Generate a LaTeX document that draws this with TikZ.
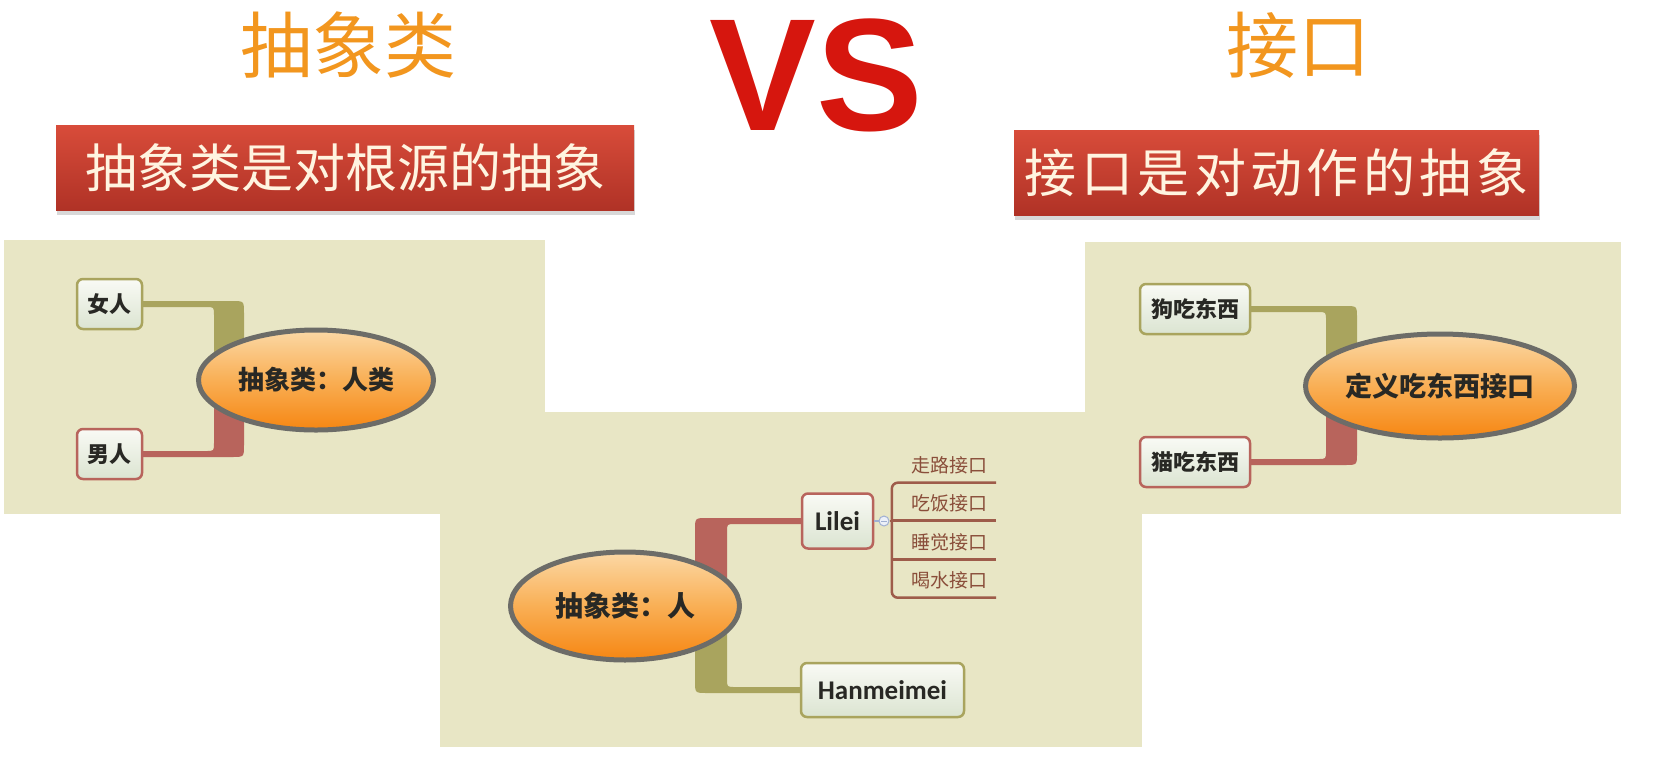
\documentclass[tikz,border=0pt]{standalone}
\usepackage{fontspec}
\setmainfont{Noto Sans CJK SC}
\newfontfamily\latinfont{Carlito}
\newfontfamily\vsfont{Liberation Sans}
\newfontfamily\bannerwide[LetterSpace=8.5]{Noto Sans CJK SC}
\usetikzlibrary{shapes.geometric,calc,shadows}

\definecolor{panelbg}{RGB}{232,230,197}
\definecolor{olivewire}{RGB}{169,164,94}
\definecolor{redwire}{RGB}{184,100,92}
\definecolor{titleorange}{RGB}{242,150,30}
\definecolor{vsred}{RGB}{214,22,14}
\definecolor{bannertop}{RGB}{216,76,58}
\definecolor{bannerbot}{RGB}{176,50,38}
\definecolor{bannertext}{RGB}{255,244,224}
\definecolor{ovaltop}{RGB}{251,216,165}
\definecolor{ovalmid}{RGB}{249,175,85}
\definecolor{ovalbot}{RGB}{246,134,18}
\definecolor{ovalrim}{RGB}{108,108,104}
\definecolor{boxtop}{RGB}{249,250,245}
\definecolor{boxbot}{RGB}{219,228,209}
\definecolor{inktext}{RGB}{40,40,36}
\definecolor{subline}{RGB}{158,92,74}
\definecolor{subtext}{RGB}{138,78,58}
\definecolor{markrim}{RGB}{160,176,210}
\definecolor{markfill}{RGB}{236,240,248}

\pgfdeclarelayer{panels}
\pgfdeclarelayer{wires}
\pgfsetlayers{panels,wires,main}

% Thick elbow branch: thin line from a topic box that widens into a bar
% running to the central oval.
% #1 colour, #2 box, #3 bar x next to box, #4 bar x away from box,
% #5 oval, #6 +1/-1 bar right/left of box, #7 +1/-1 oval above/below the line
\newcommand\elbowwire[7]{%
  \begin{pgfonlayer}{wires}
  \fill[#1] let \p1=(#2.center), \p2=(#5.center) in
    (\x1,{\y1-(#7)*3pt}) -- ({#4pt-(#6)*12pt},{\y1-(#7)*3pt})
    .. controls (#4pt,{\y1-(#7)*3pt}) .. (#4pt,{\y1-(#7)*3pt+(#7)*12pt})
    -- (#4pt,\y2) -- (#3pt,\y2)
    -- (#3pt,{\y1+(#7)*3pt+(#7)*8pt})
    .. controls (#3pt,{\y1+(#7)*3pt}) .. ({#3pt-(#6)*8pt},{\y1+(#7)*3pt})
    -- (\x1,{\y1+(#7)*3pt}) -- cycle;
  \end{pgfonlayer}}

\tikzset{
  topicbox/.style={draw, line width=2.5pt, rounded corners=6pt,
    top color=boxtop, bottom color=boxbot, inner sep=0pt,
    minimum height=50pt, text=inktext,
    font=\bfseries\fontsize{22}{22}\selectfont},
  central/.style={ellipse, draw=ovalrim, line width=5pt,
    top color=ovaltop, bottom color=ovalbot, middle color=ovalmid,
    inner sep=0pt, text=inktext, font=\bfseries\fontsize{26}{26}\selectfont},
  banner/.style={rectangle, top color=bannertop, bottom color=bannerbot,
    text=bannertext, inner sep=0pt, minimum height=85pt,
    drop shadow={shadow xshift=1pt, shadow yshift=-5pt, opacity=0.3}},
  headline/.style={text=titleorange, inner sep=0pt,
    font=\fontsize{72}{72}\selectfont},
  sublabel/.style={text width=86pt, align=right, inner xsep=9pt,
    inner ysep=0pt, minimum height=35pt, text=subtext,
    font=\fontsize{19}{19}\selectfont},
  subwire/.style={draw=subline, line width=2.5pt},
}

\begin{document}
\begin{tikzpicture}[x=1pt,y=1pt]
\useasboundingbox (0,0) rectangle (1671,-772);

% backdrop and the three mind-map panels
\begin{pgfonlayer}{panels}
  \fill[white] (0,0) rectangle (1671,-772);
  \fill[panelbg] (4,-240) rectangle (545,-514);
  \fill[panelbg] (440,-412) rectangle (1142,-747);
  \fill[panelbg] (1085,-242) rectangle (1621,-514);
\end{pgfonlayer}

% headings
\node[headline] (ttlA) at (348,-45) {抽象类};
\node[headline] (ttlI) at (1298,-45) {接口};
\node[anchor=base, inner sep=0pt, text=vsred,
  font=\vsfont\bfseries\fontsize{160}{160}\selectfont] (vs) at (816,-130) {VS};

% red banners
\node[banner, minimum width=578pt, font=\fontsize{52}{52}\selectfont]
  (bnA) at (345,-167.5) {抽象类是对根源的抽象};
\node[banner, minimum width=525pt, font=\bannerwide\fontsize{52}{52}\selectfont]
  (bnI) at (1276.5,-172.5) {接口是对动作的抽象};

% left map: abstract class
\node[central, minimum width=235pt, minimum height=100pt] (absA) at (316,-380) {抽象类：人类};
\node[topicbox, draw=olivewire, minimum width=65pt] (woman) at (109.5,-304) {女人};
\node[topicbox, draw=redwire, minimum width=65pt] (man) at (109.5,-454) {男人};
\elbowwire{olivewire}{woman}{214}{244}{absA}{1}{-1}
\elbowwire{redwire}{man}{214}{244}{absA}{1}{1}

% right map: interface
\node[central, minimum width=269pt, minimum height=104pt,
  font=\bfseries\fontsize{27}{27}\selectfont] (eatI) at (1440,-386) {定义吃东西接口};
\node[topicbox, draw=olivewire, minimum width=110pt] (dog) at (1195,-309) {狗吃东西};
\node[topicbox, draw=redwire, minimum width=110pt] (cat) at (1195,-462) {猫吃东西};
\elbowwire{olivewire}{dog}{1326}{1357}{eatI}{1}{-1}
\elbowwire{redwire}{cat}{1326}{1357}{eatI}{1}{1}

% middle map: abstract person with interfaces
\node[central, minimum width=229pt, minimum height=108pt,
  font=\bfseries\fontsize{28}{28}\selectfont] (absP) at (625,-606) {抽象类：人};
\node[topicbox, draw=redwire, minimum width=71pt, minimum height=55pt,
  font=\latinfont\bfseries\fontsize{27}{27}\selectfont] (lilei) at (837.5,-521) {Lilei};
\node[topicbox, draw=olivewire, minimum width=163pt, minimum height=54pt,
  font=\latinfont\bfseries\fontsize{27}{27}\selectfont] (hmm) at (882.5,-690) {Hanmeimei};
\elbowwire{redwire}{lilei}{727}{695}{absP}{-1}{-1}
\elbowwire{olivewire}{hmm}{727}{695}{absP}{-1}{1}

% collapse marker and the sub-topics of Lilei
\node[circle, draw=markrim, fill=markfill, line width=1pt, minimum size=10pt,
  inner sep=0pt] (mk) at (884,-521) {};
\draw[markrim, line width=1pt] ($(mk.center)+(-3,0)$) -- ($(mk.center)+(3,0)$);
\node[sublabel] (w1) at (944,-465) {走路接口};
\node[sublabel] (w2) at (944,-503) {吃饭接口};
\node[sublabel] (w3) at (944,-542) {睡觉接口};
\node[sublabel] (w4) at (944,-580) {喝水接口};
\draw[markrim, line width=1.5pt] (lilei.east) -- (mk.west);
\draw[subwire] (mk.east) -- (mk.east -| w1.south west);
\draw[subwire, rounded corners=6pt] (w1.south east) -- (w1.south west)
  -- (w4.south west) -- (w4.south east);
\draw[subwire] (w2.south west) -- (w2.south east);
\draw[subwire] (w3.south west) -- (w3.south east);
\end{tikzpicture}
\end{document}
